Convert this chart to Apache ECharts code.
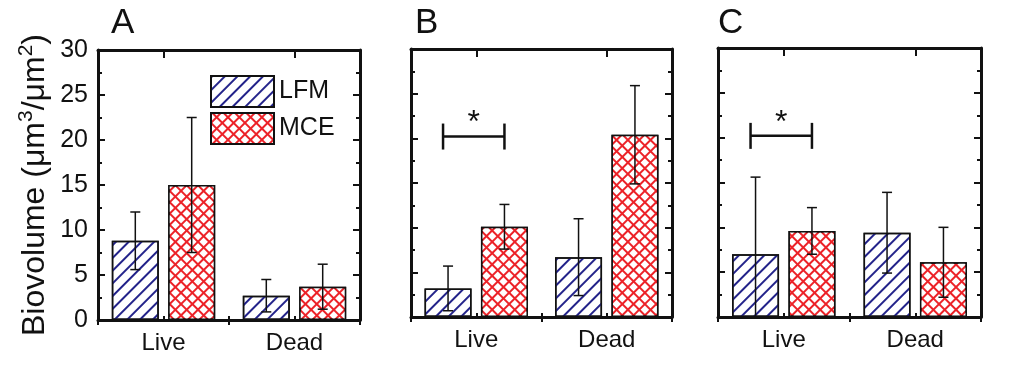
<!DOCTYPE html>
<html>
<head>
<meta charset="utf-8">
<title>Biovolume</title>
<script src="https://cdn.jsdelivr.net/npm/echarts@6/dist/echarts.min.js"></script>
<style>
  html, body { margin: 0; padding: 0; background: #fff; }
  #chart { width: 1010px; height: 375px; }
</style>
</head>
<body>
<div id="chart"></div>
<script>
// data (panel A, B, C; each [Live, Dead])
const categories = ['Live', 'Dead'];
const panelLetters = ['A', 'B', 'C'];
const lfmMean = [[8.8, 2.7], [3.2, 6.7], [7.0, 9.4]];
const lfmSd = [[3.2, 1.8], [2.5, 4.3], [8.6, 4.5]];
const mceMean = [[15.0, 3.7], [10.1, 20.4], [9.6, 6.1]];
const mceSd = [[7.5, 2.5], [2.5, 5.5], [2.6, 3.9]];
const sigY = [null, 20.2, 20.2];   // "*" bracket height, null = none
const yTicks = [0, 30, 5];         // min, max, interval

const FONT = '"Liberation Sans", Arial, sans-serif';
const BAR_W = 47;
const BAR_GAP = 0.2;
const OFFSET = BAR_W * (1 + BAR_GAP) / 2;

const grids = [
    { left: 98, top: 50, width: 262, height: 270 },
    { left: 411, top: 49, width: 261, height: 268 },
    { left: 718, top: 48, width: 263, height: 269 }
];
const letterX = [111, 415, 718];

const lfmStyle = {
    color: '#fff',
    borderColor: '#111',
    borderWidth: 1.5,
    decal: {
        symbol: 'rect',
        symbolSize: 1,
        color: '#23238a',
        dashArrayX: [1, 0],
        dashArrayY: [1.7, 6.5],
        rotation: -Math.PI / 4
    }
};
const mceStyle = {
    color: '#ec2228',
    borderColor: '#111',
    borderWidth: 1.5,
    decal: {
        symbol: 'rect',
        symbolSize: 1,
        color: '#fff',
        dashArrayX: [6, 2],
        dashArrayY: [6, 2],
        rotation: Math.PI / 4
    }
};

function errorBars(sign) {
    return function (params, api) {
        const idx = api.value(0);
        const m = api.value(1);
        const s = api.value(2);
        const hi = api.coord([idx, m + s]);
        const lo = api.coord([idx, m - s]);
        const x = hi[0] + sign * OFFSET;
        const st = { stroke: '#111', lineWidth: 1.5 };
        return {
            type: 'group',
            children: [
                { type: 'line', shape: { x1: x, y1: hi[1], x2: x, y2: lo[1] }, style: st },
                { type: 'line', shape: { x1: x - 5, y1: hi[1], x2: x + 5, y2: hi[1] }, style: st },
                { type: 'line', shape: { x1: x - 5, y1: lo[1], x2: x + 5, y2: lo[1] }, style: st }
            ]
        };
    };
}

function sigBracket(params, api) {
    const c = api.coord([api.value(0), api.value(1)]);
    const x1 = c[0] - OFFSET - 5;
    const x2 = c[0] + OFFSET;
    const y = c[1];
    const st = { stroke: '#111', lineWidth: 2.5 };
    return {
        type: 'group',
        children: [
            { type: 'line', shape: { x1: x1, y1: y, x2: x2, y2: y }, style: st },
            { type: 'line', shape: { x1: x1, y1: y - 13, x2: x1, y2: y + 13 }, style: st },
            { type: 'line', shape: { x1: x2, y1: y - 13, x2: x2, y2: y + 13 }, style: st },
            {
                type: 'text',
                style: {
                    text: '*', x: (x1 + x2) / 2, y: y - 13,
                    fill: '#111', font: '32px ' + FONT,
                    align: 'center', verticalAlign: 'middle'
                }
            }
        ]
    };
}

let xAxes = [], yAxes = [], series = [], titles = [];

grids.forEach(function (g, p) {
    const line = { show: true, onZero: false, lineStyle: { color: '#111', width: 3 } };
    // bottom axis with labels
    xAxes.push({
        type: 'category', gridIndex: p, position: 'bottom', data: categories,
        axisLine: line,
        axisTick: { show: true, inside: true, alignWithLabel: true, length: 4, lineStyle: { width: 2, color: '#111' } },
        axisLabel: { fontSize: 24, color: '#111', fontFamily: FONT, margin: 11 }
    });
    // bottom boundary ticks
    xAxes.push({
        type: 'category', gridIndex: p, position: 'bottom', data: categories,
        axisLine: { show: false },
        axisTick: { show: true, inside: true, length: 4, lineStyle: { width: 2, color: '#111' } },
        axisLabel: { show: false }
    });
    // top axes
    xAxes.push({
        type: 'category', gridIndex: p, position: 'top', data: categories,
        axisLine: line,
        axisTick: { show: true, inside: true, alignWithLabel: true, length: 8, lineStyle: { width: 2, color: '#111' } },
        axisLabel: { show: false }
    });
    xAxes.push({
        type: 'category', gridIndex: p, position: 'top', data: categories,
        axisLine: { show: false },
        axisTick: { show: true, inside: true, length: 5, lineStyle: { width: 2, color: '#111' } },
        axisLabel: { show: false }
    });

    const yBase = {
        type: 'value', gridIndex: p,
        min: yTicks[0], max: yTicks[1], interval: yTicks[2],
        axisLine: line,
        splitLine: { show: false },
        axisTick: { show: true, inside: true, length: 7, lineStyle: { width: 2, color: '#111' } },
        minorTick: { show: true, inside: true, splitNumber: 2, length: 4, lineStyle: { width: 2, color: '#111' } }
    };
    yAxes.push(Object.assign({}, yBase, {
        position: 'left',
        axisLabel: { show: p === 0, fontSize: 25, color: '#111', fontFamily: FONT, margin: 10 },
        name: p === 0 ? '{a|Biovolume (μm}{s|3}{a|/μm}{s|2}{a|)}' : '',
        nameLocation: 'middle',
        nameGap: 44,
        nameTextStyle: {
            rich: {
                a: { fontSize: 32, lineHeight: 38, fontFamily: FONT, color: '#111' },
                s: { fontSize: 21, lineHeight: 21, fontFamily: FONT, color: '#111', verticalAlign: 'top' }
            }
        }
    }));
    yAxes.push(Object.assign({}, yBase, { position: 'right', axisLabel: { show: false } }));

    series.push({
        name: 'LFM', type: 'bar', xAxisIndex: 4 * p, yAxisIndex: 2 * p,
        barWidth: BAR_W, barGap: (BAR_GAP * 100) + '%',
        data: lfmMean[p], itemStyle: lfmStyle, z: 2
    });
    series.push({
        name: 'MCE', type: 'bar', xAxisIndex: 4 * p, yAxisIndex: 2 * p,
        barWidth: BAR_W, barGap: (BAR_GAP * 100) + '%',
        data: mceMean[p], itemStyle: mceStyle, z: 2
    });
    series.push({
        type: 'custom', xAxisIndex: 4 * p, yAxisIndex: 2 * p, z: 5, clip: true,
        renderItem: errorBars(-1),
        data: lfmMean[p].map(function (m, i) { return [i, m, lfmSd[p][i]]; })
    });
    series.push({
        type: 'custom', xAxisIndex: 4 * p, yAxisIndex: 2 * p, z: 5, clip: true,
        renderItem: errorBars(1),
        data: mceMean[p].map(function (m, i) { return [i, m, mceSd[p][i]]; })
    });
    if (sigY[p] !== null) {
        series.push({
            type: 'custom', xAxisIndex: 4 * p, yAxisIndex: 2 * p, z: 5,
            renderItem: sigBracket,
            data: [[0, sigY[p]]]
        });
    }
    titles.push({
        text: panelLetters[p], left: letterX[p], top: 6, padding: 0,
        textStyle: { fontSize: 35, fontWeight: 'normal', color: '#111', fontFamily: FONT }
    });
});

const chart = echarts.init(document.getElementById('chart'), null, { renderer: 'canvas' });
chart.setOption({
    animation: false,
    backgroundColor: '#fff',
    title: titles,
    legend: {
        data: ['LFM', 'MCE'],
        orient: 'vertical',
        left: 210, top: 75,
        icon: 'rect',
        itemWidth: 63, itemHeight: 31, itemGap: 4,
        padding: 0,
        textStyle: { fontSize: 25, color: '#111', fontFamily: FONT, padding: [0, 0, 0, 0] },
        selectedMode: false
    },
    grid: grids,
    xAxis: xAxes,
    yAxis: yAxes,
    series: series
});
</script>
</body>
</html>
